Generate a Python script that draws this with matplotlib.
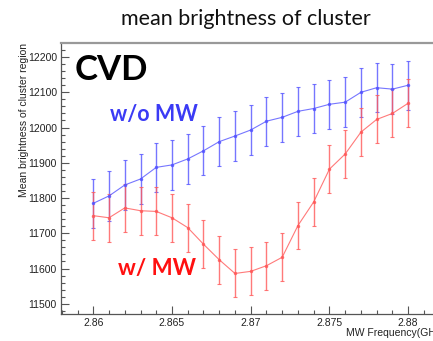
import matplotlib
matplotlib.use("Agg")
import matplotlib.pyplot as plt
from matplotlib.ticker import MultipleLocator, FixedLocator

# MW frequency scan (GHz)
freq = [2.860, 2.861, 2.862, 2.863, 2.864, 2.865, 2.866, 2.867, 2.868, 2.869, 2.870,
        2.871, 2.872, 2.873, 2.874, 2.875, 2.876, 2.877, 2.878, 2.879, 2.880]

# mean brightness without microwave
bright_no_mw = [11785, 11806, 11837, 11854, 11887, 11894, 11911, 11934, 11960, 11976, 11993,
                12018, 12029, 12046, 12054, 12066, 12072, 12100, 12113, 12109, 12120]
err_no_mw = [70, 70, 70, 70, 70, 70, 70, 70, 70, 70, 70,
             70, 70, 70, 70, 70, 70, 70, 70, 70, 70]

# mean brightness with microwave
bright_mw = [11750, 11744, 11772, 11764, 11762, 11744, 11716, 11669, 11625, 11586, 11592,
             11608, 11632, 11722, 11789, 11882, 11925, 11987, 12023, 12040, 12069]
err_mw = [68, 68, 68, 68, 68, 68, 68, 68, 68, 68, 68,
          68, 68, 68, 68, 68, 68, 68, 68, 68, 68]

x_ticks = [2.86, 2.865, 2.87, 2.875, 2.88]
x_ticklabels = ["2.86", "2.865", "2.87", "2.875", "2.88"]
y_ticks = [11500, 11600, 11700, 11800, 11900, 12000, 12100, 12200]

fig = plt.figure(figsize=(4.33, 3.41), dpi=100)
ax = fig.add_axes([61 / 433, 1 - 314 / 341, 384 / 433, (314 - 43.3) / 341])

blue = (0.33, 0.33, 1.0)
red = (1.0, 0.35, 0.35)

ax.errorbar(freq, bright_no_mw, yerr=err_no_mw, color=blue, lw=0.8, elinewidth=1.0,
            capsize=1.6, capthick=0.8, marker='o', ms=1.5, alpha=0.8, zorder=3)
ax.errorbar(freq, bright_mw, yerr=err_mw, color=red, lw=0.8, elinewidth=1.0,
            capsize=1.6, capthick=0.8, marker='o', ms=1.5, alpha=0.8, zorder=3)

ax.set_xlim(2.85795, 2.88234)
ax.set_ylim(11471, 12239)

ax.xaxis.set_major_locator(FixedLocator(x_ticks))
ax.set_xticklabels(x_ticklabels)
ax.xaxis.set_minor_locator(MultipleLocator(0.001))
ax.yaxis.set_major_locator(FixedLocator(y_ticks))
ax.yaxis.set_minor_locator(MultipleLocator(20))

tick_font = {"family": "Liberation Sans", "size": 7.5}
for lab in ax.get_xticklabels() + ax.get_yticklabels():
    lab.set_fontfamily("Liberation Sans")
    lab.set_fontsize(7.5)
    lab.set_color("#222222")

ax.tick_params(which="major", direction="in", length=6, width=0.8, color="#555555", pad=3)
ax.tick_params(which="minor", direction="in", length=3, width=0.8, color="#555555")
ax.tick_params(top=False, right=False)

for side in ("left", "bottom"):
    ax.spines[side].set_color("#555555")
    ax.spines[side].set_linewidth(0.9)
ax.spines["top"].set_color("#999999")
ax.spines["top"].set_linewidth(1.6)
ax.spines["right"].set_visible(False)

ax.set_xlabel("MW Frequency(GHz)", fontdict=tick_font, color="#222222", loc="right", labelpad=0)
ax.set_ylabel("Mean brightness of cluster region", fontdict=tick_font, color="#222222",
              loc="top", labelpad=-1)

fig.text(246 / 433, 1 - 19 / 341, "mean brightness of cluster", family="Lato",
         fontsize=15.5, ha="center", va="center", color="#111111")

fig.text(75 / 433, 1 - 69.5 / 341, "CVD", family="Lato", fontweight="bold",
         fontsize=25, ha="left", va="center", color="black")
fig.text(110 / 433, 1 - 114.5 / 341, "w/o MW", family="Lato", fontweight="bold",
         fontsize=15.5, ha="left", va="center", color="#3b3bf5")
fig.text(118 / 433, 1 - 268.5 / 341, "w/ MW", family="Lato", fontweight="bold",
         fontsize=16, ha="left", va="center", color="#ff1010")

fig.savefig("out.png", dpi=100)
